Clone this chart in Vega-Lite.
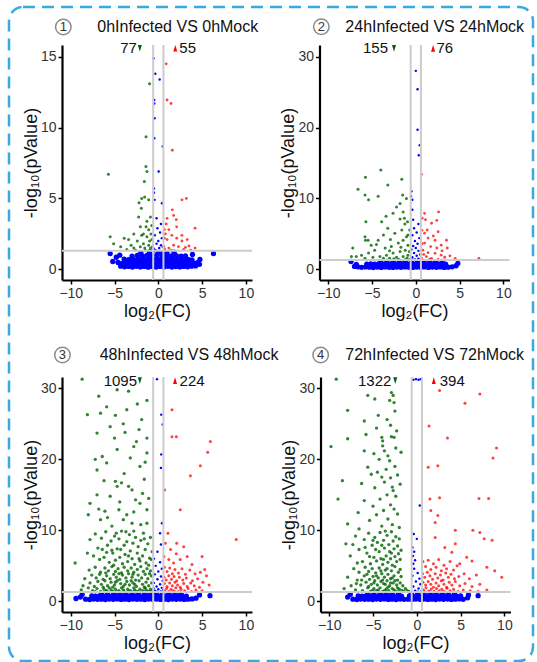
{
"$schema":"https://vega.github.io/schema/vega-lite/v6.json",
"width":524,"height":654,
"autosize":{"type":"none"},
"padding":{"left":9,"top":7,"right":4,"bottom":1},
"background":"white",
"config":{
 "font":"Liberation Sans",
 "view":{"stroke":"#3aa9e1","strokeWidth":2.5,"strokeDash":[12,7],"cornerRadius":14},
 "axis":{"grid":false,"domainColor":"#000","domainWidth":2.2,"tickColor":"#000","tickWidth":1.5,"tickSize":4,"labelFont":"Liberation Sans","labelFontSize":14,"labelColor":"#333","labelPadding":2,"labelFlush":false,"titleFont":"Liberation Sans","titleFontSize":18,"titleFontWeight":"normal","titleColor":"#111","titlePadding":0},
 "axisX":{"titlePadding":2}
},
"resolve":{"scale":{"x":"independent","y":"independent"},"axis":{"x":"independent","y":"independent"}},
"layer":[
{"layer":[
 {"data":{"name":"p1n"},"mark":{"type":"point","filled":true,"color":"#0000ff","opacity":1},
  "encoding":{"x":{"field":"x","type":"quantitative","scale":{"domain":[-11,10.7],"range":[53,243],"nice":false,"zero":false},"axis":{"orient":"bottom","offset":-381,"values":[-10,-5,0,5,10],"title":"log₂(FC)"}},
   "y":{"field":"y","type":"quantitative","scale":{"domain":[-0.755,15.83],"range":[273,38],"nice":false,"zero":false},"axis":{"orient":"left","offset":-53,"values":[0,5,10,15],"title":"-log₁₀(pValue)"}},
   "size":{"field":"y","type":"quantitative","scale":{"type":"threshold","domain":[1.25],"range":[28,6]},"legend":null}}},
 {"data":{"name":"p1d"},"mark":{"type":"point","filled":true,"size":9,"color":"#006400","opacity":0.8},"encoding":{"x":{"field":"x","type":"quantitative"},"y":{"field":"y","type":"quantitative"}}},
 {"data":{"name":"p1u"},"mark":{"type":"point","filled":true,"size":8,"color":"#ff0000","opacity":0.75},"encoding":{"x":{"field":"x","type":"quantitative"},"y":{"field":"y","type":"quantitative"}}},
 {"data":{"values":[{"fc":-0.585},{"fc":0.585}]},"mark":{"type":"rule","color":"#cccccc","strokeWidth":2},"encoding":{"x":{"field":"fc","type":"quantitative"},"y":{"datum":-0.755,"type":"quantitative"},"y2":{"datum":15.83}}},
 {"data":{"values":[{"p":1.301}]},"mark":{"type":"rule","color":"#cccccc","strokeWidth":2},"encoding":{"y":{"field":"p","type":"quantitative"},"x":{"datum":-11,"type":"quantitative"},"x2":{"datum":10.7}}},
 {"data":{"values":[{"down":77,"up":55}]},"layer":[
  {"mark":{"type":"text","fontSize":15,"align":"right","color":"#111"},"encoding":{"x":{"datum":-2.45,"type":"quantitative"},"y":{"datum":15.6,"type":"quantitative"},"text":{"field":"down"}}},
  {"mark":{"type":"point","filled":true,"opacity":1,"color":"#006400","size":45,"shape":"M-0.6,-1L0.6,-1L0,1Z"},"encoding":{"x":{"datum":-2.11,"type":"quantitative"},"y":{"datum":15.6,"type":"quantitative"}}},
  {"mark":{"type":"point","filled":true,"opacity":1,"color":"#ff0000","size":45,"shape":"M-0.6,1L0.6,1L0,-1Z"},"encoding":{"x":{"datum":1.94,"type":"quantitative"},"y":{"datum":15.6,"type":"quantitative"}}},
  {"mark":{"type":"text","fontSize":15,"align":"left","color":"#111"},"encoding":{"x":{"datum":2.4,"type":"quantitative"},"y":{"datum":15.6,"type":"quantitative"},"text":{"field":"up"}}}
 ]},
 {"data":{"values":[{"no":"1","title":"0hInfected VS 0hMock"}]},"layer":[
  {"mark":{"type":"point","shape":"circle","size":240,"color":"#8c8c8c","strokeWidth":1.5,"filled":false,"opacity":1},"encoding":{"x":{"datum":-10.85,"type":"quantitative"},"y":{"datum":17.1,"type":"quantitative"}}},
  {"mark":{"type":"text","fontSize":13,"color":"#333"},"encoding":{"x":{"datum":-10.85,"type":"quantitative"},"y":{"datum":17.1,"type":"quantitative"},"text":{"field":"no"}}},
  {"mark":{"type":"text","fontSize":16,"align":"left","color":"#111"},"encoding":{"x":{"datum":-6.97,"type":"quantitative"},"y":{"datum":17.1,"type":"quantitative"},"text":{"field":"title"}}}
 ]}
]},
{"layer":[
 {"data":{"name":"p2n"},"mark":{"type":"point","filled":true,"color":"#0000ff","opacity":1},
  "encoding":{"x":{"field":"x","type":"quantitative","scale":{"domain":[-11,10.7],"range":[310.5,500.5],"nice":false,"zero":false},"axis":{"orient":"bottom","offset":-381,"values":[-10,-5,0,5,10],"title":"log₂(FC)"}},
   "y":{"field":"y","type":"quantitative","scale":{"domain":[-1.51,31.65],"range":[273,38],"nice":false,"zero":false},"axis":{"orient":"left","offset":-310.5,"values":[0,10,20,30],"title":"-log₁₀(pValue)"}},
   "size":{"field":"y","type":"quantitative","scale":{"type":"threshold","domain":[1.25],"range":[28,6]},"legend":null}}},
 {"data":{"name":"p2d"},"mark":{"type":"point","filled":true,"size":9,"color":"#006400","opacity":0.8},"encoding":{"x":{"field":"x","type":"quantitative"},"y":{"field":"y","type":"quantitative"}}},
 {"data":{"name":"p2u"},"mark":{"type":"point","filled":true,"size":8,"color":"#ff0000","opacity":0.75},"encoding":{"x":{"field":"x","type":"quantitative"},"y":{"field":"y","type":"quantitative"}}},
 {"data":{"values":[{"fc":-0.585},{"fc":0.585}]},"mark":{"type":"rule","color":"#cccccc","strokeWidth":2},"encoding":{"x":{"field":"fc","type":"quantitative"},"y":{"datum":-1.51,"type":"quantitative"},"y2":{"datum":31.65}}},
 {"data":{"values":[{"p":1.301}]},"mark":{"type":"rule","color":"#cccccc","strokeWidth":2},"encoding":{"y":{"field":"p","type":"quantitative"},"x":{"datum":-11,"type":"quantitative"},"x2":{"datum":10.7}}},
 {"data":{"values":[{"down":155,"up":76}]},"layer":[
  {"mark":{"type":"text","fontSize":15,"align":"right","color":"#111"},"encoding":{"x":{"datum":-3.17,"type":"quantitative"},"y":{"datum":31.18,"type":"quantitative"},"text":{"field":"down"}}},
  {"mark":{"type":"point","filled":true,"opacity":1,"color":"#006400","size":45,"shape":"M-0.6,-1L0.6,-1L0,1Z"},"encoding":{"x":{"datum":-2.49,"type":"quantitative"},"y":{"datum":31.18,"type":"quantitative"}}},
  {"mark":{"type":"point","filled":true,"opacity":1,"color":"#ff0000","size":45,"shape":"M-0.6,1L0.6,1L0,-1Z"},"encoding":{"x":{"datum":1.97,"type":"quantitative"},"y":{"datum":31.18,"type":"quantitative"}}},
  {"mark":{"type":"text","fontSize":15,"align":"left","color":"#111"},"encoding":{"x":{"datum":2.35,"type":"quantitative"},"y":{"datum":31.18,"type":"quantitative"},"text":{"field":"up"}}}
 ]},
 {"data":{"values":[{"no":"2","title":"24hInfected VS 24hMock"}]},"layer":[
  {"mark":{"type":"point","shape":"circle","size":240,"color":"#8c8c8c","strokeWidth":1.5,"filled":false,"opacity":1},"encoding":{"x":{"datum":-10.79,"type":"quantitative"},"y":{"datum":34.23,"type":"quantitative"}}},
  {"mark":{"type":"text","fontSize":13,"color":"#333"},"encoding":{"x":{"datum":-10.79,"type":"quantitative"},"y":{"datum":34.23,"type":"quantitative"},"text":{"field":"no"}}},
  {"mark":{"type":"text","fontSize":16,"align":"left","color":"#111"},"encoding":{"x":{"datum":-8.05,"type":"quantitative"},"y":{"datum":34.23,"type":"quantitative"},"text":{"field":"title"}}}
 ]}
]},
{"layer":[
 {"data":{"name":"p3n"},"mark":{"type":"point","filled":true,"color":"#0000ff","opacity":1},
  "encoding":{"x":{"field":"x","type":"quantitative","scale":{"domain":[-11,10.7],"range":[53,243],"nice":false,"zero":false},"axis":{"orient":"bottom","offset":-49,"values":[-10,-5,0,5,10],"title":"log₂(FC)"}},
   "y":{"field":"y","type":"quantitative","scale":{"domain":[-1.5,31.6],"range":[605,370],"nice":false,"zero":false},"axis":{"orient":"left","offset":-53,"values":[0,10,20,30],"title":"-log₁₀(pValue)"}},
   "size":{"field":"y","type":"quantitative","scale":{"type":"threshold","domain":[1.25],"range":[28,6]},"legend":null}}},
 {"data":{"name":"p3d"},"mark":{"type":"point","filled":true,"size":11,"color":"#006400","opacity":0.8},"encoding":{"x":{"field":"x","type":"quantitative"},"y":{"field":"y","type":"quantitative"}}},
 {"data":{"name":"p3u"},"mark":{"type":"point","filled":true,"size":9,"color":"#ff0000","opacity":0.75},"encoding":{"x":{"field":"x","type":"quantitative"},"y":{"field":"y","type":"quantitative"}}},
 {"data":{"values":[{"fc":-0.585},{"fc":0.585}]},"mark":{"type":"rule","color":"#cccccc","strokeWidth":2},"encoding":{"x":{"field":"fc","type":"quantitative"},"y":{"datum":-1.5,"type":"quantitative"},"y2":{"datum":31.6}}},
 {"data":{"values":[{"p":1.301}]},"mark":{"type":"rule","color":"#cccccc","strokeWidth":2},"encoding":{"y":{"field":"p","type":"quantitative"},"x":{"datum":-11,"type":"quantitative"},"x2":{"datum":10.7}}},
 {"data":{"values":[{"down":1095,"up":224}]},"layer":[
  {"mark":{"type":"text","fontSize":15,"align":"right","color":"#111"},"encoding":{"x":{"datum":-2.43,"type":"quantitative"},"y":{"datum":31.08,"type":"quantitative"},"text":{"field":"down"}}},
  {"mark":{"type":"point","filled":true,"opacity":1,"color":"#006400","size":45,"shape":"M-0.6,-1L0.6,-1L0,1Z"},"encoding":{"x":{"datum":-2.11,"type":"quantitative"},"y":{"datum":31.08,"type":"quantitative"}}},
  {"mark":{"type":"point","filled":true,"opacity":1,"color":"#ff0000","size":45,"shape":"M-0.6,1L0.6,1L0,-1Z"},"encoding":{"x":{"datum":1.91,"type":"quantitative"},"y":{"datum":31.08,"type":"quantitative"}}},
  {"mark":{"type":"text","fontSize":15,"align":"left","color":"#111"},"encoding":{"x":{"datum":2.43,"type":"quantitative"},"y":{"datum":31.08,"type":"quantitative"},"text":{"field":"up"}}}
 ]},
 {"data":{"values":[{"no":"3","title":"48hInfected VS 48hMock"}]},"layer":[
  {"mark":{"type":"point","shape":"circle","size":240,"color":"#8c8c8c","strokeWidth":1.5,"filled":false,"opacity":1},"encoding":{"x":{"datum":-10.95,"type":"quantitative"},"y":{"datum":34.7,"type":"quantitative"}}},
  {"mark":{"type":"text","fontSize":13,"color":"#333"},"encoding":{"x":{"datum":-10.95,"type":"quantitative"},"y":{"datum":34.7,"type":"quantitative"},"text":{"field":"no"}}},
  {"mark":{"type":"text","fontSize":16,"align":"left","color":"#111"},"encoding":{"x":{"datum":-6.7,"type":"quantitative"},"y":{"datum":34.7,"type":"quantitative"},"text":{"field":"title"}}}
 ]}
]},
{"layer":[
 {"data":{"name":"p4n"},"mark":{"type":"point","filled":true,"color":"#0000ff","opacity":1},
  "encoding":{"x":{"field":"x","type":"quantitative","scale":{"domain":[-11,10.7],"range":[311.5,501.5],"nice":false,"zero":false},"axis":{"orient":"bottom","offset":-49,"values":[-10,-5,0,5,10],"title":"log₂(FC)"}},
   "y":{"field":"y","type":"quantitative","scale":{"domain":[-1.5,31.6],"range":[605,370],"nice":false,"zero":false},"axis":{"orient":"left","offset":-311.5,"values":[0,10,20,30],"title":"-log₁₀(pValue)"}},
   "size":{"field":"y","type":"quantitative","scale":{"type":"threshold","domain":[1.25],"range":[28,6]},"legend":null}}},
 {"data":{"name":"p4d"},"mark":{"type":"point","filled":true,"size":11,"color":"#006400","opacity":0.8},"encoding":{"x":{"field":"x","type":"quantitative"},"y":{"field":"y","type":"quantitative"}}},
 {"data":{"name":"p4u"},"mark":{"type":"point","filled":true,"size":9,"color":"#ff0000","opacity":0.75},"encoding":{"x":{"field":"x","type":"quantitative"},"y":{"field":"y","type":"quantitative"}}},
 {"data":{"values":[{"fc":-0.585},{"fc":0.585}]},"mark":{"type":"rule","color":"#cccccc","strokeWidth":2},"encoding":{"x":{"field":"fc","type":"quantitative"},"y":{"datum":-1.5,"type":"quantitative"},"y2":{"datum":31.6}}},
 {"data":{"values":[{"p":1.301}]},"mark":{"type":"rule","color":"#cccccc","strokeWidth":2},"encoding":{"y":{"field":"p","type":"quantitative"},"x":{"datum":-11,"type":"quantitative"},"x2":{"datum":10.7}}},
 {"data":{"values":[{"down":1322,"up":394}]},"layer":[
  {"mark":{"type":"text","fontSize":15,"align":"right","color":"#111"},"encoding":{"x":{"datum":-2.91,"type":"quantitative"},"y":{"datum":31.08,"type":"quantitative"},"text":{"field":"down"}}},
  {"mark":{"type":"point","filled":true,"opacity":1,"color":"#006400","size":45,"shape":"M-0.6,-1L0.6,-1L0,1Z"},"encoding":{"x":{"datum":-2.46,"type":"quantitative"},"y":{"datum":31.08,"type":"quantitative"}}},
  {"mark":{"type":"point","filled":true,"opacity":1,"color":"#ff0000","size":45,"shape":"M-0.6,1L0.6,1L0,-1Z"},"encoding":{"x":{"datum":1.94,"type":"quantitative"},"y":{"datum":31.08,"type":"quantitative"}}},
  {"mark":{"type":"text","fontSize":15,"align":"left","color":"#111"},"encoding":{"x":{"datum":2.62,"type":"quantitative"},"y":{"datum":31.08,"type":"quantitative"},"text":{"field":"up"}}}
 ]},
 {"data":{"values":[{"no":"4","title":"72hInfected VS 72hMock"}]},"layer":[
  {"mark":{"type":"point","shape":"circle","size":240,"color":"#8c8c8c","strokeWidth":1.5,"filled":false,"opacity":1},"encoding":{"x":{"datum":-10.98,"type":"quantitative"},"y":{"datum":34.7,"type":"quantitative"}}},
  {"mark":{"type":"text","fontSize":13,"color":"#333"},"encoding":{"x":{"datum":-10.98,"type":"quantitative"},"y":{"datum":34.7,"type":"quantitative"},"text":{"field":"no"}}},
  {"mark":{"type":"text","fontSize":16,"align":"left","color":"#111"},"encoding":{"x":{"datum":-8.17,"type":"quantitative"},"y":{"datum":34.7,"type":"quantitative"},"text":{"field":"title"}}}
 ]}
]}
],
"datasets":{
"p1n":[{"x":-4.3,"y":0.22},{"x":-3.85,"y":0.18},{"x":-3.4,"y":0.2},{"x":-2.95,"y":0.16},{"x":-2.5,"y":0.21},{"x":-2.05,"y":0.17},{"x":-1.6,"y":0.2},{"x":-1.15,"y":0.15},{"x":-0.7,"y":0.19},{"x":-0.25,"y":0.16},{"x":0.2,"y":0.2},{"x":0.65,"y":0.17},{"x":1.1,"y":0.21},{"x":1.55,"y":0.16},{"x":2.0,"y":0.19},{"x":2.45,"y":0.17},{"x":2.9,"y":0.2},{"x":3.35,"y":0.18},{"x":3.8,"y":0.22},{"x":4.25,"y":0.24},
{"x":-4.6,"y":0.48},{"x":-4.1,"y":0.44},{"x":-3.65,"y":0.46},{"x":-3.2,"y":0.42},{"x":-2.75,"y":0.47},{"x":-2.3,"y":0.43},{"x":-1.85,"y":0.46},{"x":-1.4,"y":0.41},{"x":-0.95,"y":0.45},{"x":-0.5,"y":0.42},{"x":-0.05,"y":0.47},{"x":0.4,"y":0.43},{"x":0.85,"y":0.46},{"x":1.3,"y":0.42},{"x":1.75,"y":0.45},{"x":2.2,"y":0.43},{"x":2.65,"y":0.47},{"x":3.1,"y":0.44},{"x":3.55,"y":0.46},{"x":4.0,"y":0.43},{"x":4.45,"y":0.47},
{"x":-3.9,"y":0.72},{"x":-3.4,"y":0.68},{"x":-2.9,"y":0.71},{"x":-2.45,"y":0.67},{"x":-2.0,"y":0.73},{"x":-1.55,"y":0.69},{"x":-1.1,"y":0.72},{"x":-0.65,"y":0.68},{"x":-0.2,"y":0.74},{"x":0.25,"y":0.7},{"x":0.7,"y":0.73},{"x":1.15,"y":0.68},{"x":1.6,"y":0.71},{"x":2.05,"y":0.69},{"x":2.5,"y":0.72},{"x":2.95,"y":0.68},{"x":3.4,"y":0.7},{"x":3.85,"y":0.66},
{"x":-3.0,"y":0.93},{"x":-2.4,"y":0.98},{"x":-1.8,"y":0.94},{"x":-1.25,"y":1.0},{"x":-0.7,"y":0.96},{"x":-0.15,"y":1.02},{"x":0.4,"y":0.95},{"x":0.95,"y":0.99},{"x":1.5,"y":0.94},{"x":2.05,"y":0.97},{"x":2.6,"y":0.92},{"x":3.1,"y":0.95},
{"x":-2.0,"y":1.18},{"x":-1.0,"y":1.22},{"x":0.0,"y":1.2},{"x":1.0,"y":1.16},{"x":1.8,"y":1.21},{"x":-0.5,"y":1.25},{"x":0.5,"y":1.12},
{"x":-5.2,"y":0.55},{"x":-5.5,"y":1.1},{"x":-4.8,"y":0.85},{"x":4.7,"y":0.35},{"x":4.75,"y":0.7},{"x":6.3,"y":1.1},{"x":-4.4,"y":1.0},{"x":3.9,"y":1.05},
{"x":-0.55,"y":14.9},{"x":-0.34,"y":13.8},{"x":0.15,"y":13.4},{"x":-0.46,"y":11.95},{"x":-0.46,"y":11.7},{"x":-0.42,"y":10.66},{"x":-0.46,"y":9.25},{"x":0.5,"y":8.66},{"x":0.04,"y":6.9},{"x":-0.5,"y":5.7},{"x":-0.5,"y":5.4},{"x":-0.42,"y":4.9},{"x":0.42,"y":4.66},{"x":-0.2,"y":3.6},{"x":0.3,"y":3.2},{"x":-0.1,"y":2.9},{"x":0.2,"y":2.6},{"x":-0.4,"y":2.4},{"x":0.4,"y":2.2},{"x":0.0,"y":2.0},{"x":-0.2,"y":1.8},{"x":0.3,"y":1.7},{"x":0.1,"y":1.5},{"x":-0.5,"y":1.45},{"x":0.5,"y":1.6},{"x":-0.3,"y":1.35},{"x":0.2,"y":1.3}],
"p1d":[{"x":-1.4,"y":9.36},{"x":-1.3,"y":6.9},{"x":-1.6,"y":6.2},{"x":-1.56,"y":5.1},{"x":-1.94,"y":4.3},{"x":-5.7,"y":6.7},{"x":-1.0,"y":13.1},{"x":-1.1,"y":4.9},{"x":-2.25,"y":3.7},{"x":-2.05,"y":3.0},{"x":-1.3,"y":3.4},{"x":-1.1,"y":2.8},{"x":-1.7,"y":2.5},{"x":-1.3,"y":2.3},{"x":-2.8,"y":2.5},{"x":-3.9,"y":2.2},{"x":-5.1,"y":1.8},{"x":-2.4,"y":2.0},{"x":-1.7,"y":1.8},{"x":-1.1,"y":1.7},{"x":-2.05,"y":1.6},{"x":-0.9,"y":1.5},{"x":-2.8,"y":1.5},{"x":-3.4,"y":2.1},{"x":-4.3,"y":1.6},{"x":-1.4,"y":3.0},{"x":-0.9,"y":3.7},{"x":-0.84,"y":2.5},{"x":-0.72,"y":2.1},{"x":-0.65,"y":1.6},{"x":-0.99,"y":2.0},{"x":-1.9,"y":2.4},{"x":-3.1,"y":1.7},{"x":-1.5,"y":1.35},{"x":-5.5,"y":2.3},{"x":-2.2,"y":4.7},{"x":-1.9,"y":5.0},{"x":-0.8,"y":1.35},{"x":-1.41,"y":7.25},{"x":-0.75,"y":3.1},{"x":-1.55,"y":1.5},{"x":-2.6,"y":1.35},{"x":-3.6,"y":1.4}],
"p1u":[{"x":0.9,"y":14.5},{"x":1.0,"y":11.95},{"x":1.45,"y":11.7},{"x":1.6,"y":8.4},{"x":2.7,"y":4.9},{"x":3.2,"y":5.0},{"x":1.75,"y":3.8},{"x":2.05,"y":3.5},{"x":0.9,"y":3.2},{"x":4.2,"y":2.9},{"x":1.2,"y":2.8},{"x":1.55,"y":2.4},{"x":2.1,"y":2.2},{"x":2.7,"y":2.0},{"x":1.0,"y":2.1},{"x":1.75,"y":1.7},{"x":2.3,"y":1.6},{"x":3.1,"y":1.55},{"x":3.5,"y":1.65},{"x":0.65,"y":1.6},{"x":1.2,"y":1.5},{"x":2.7,"y":2.4},{"x":3.3,"y":2.1},{"x":0.8,"y":2.5},{"x":1.45,"y":1.35},{"x":0.7,"y":2.8},{"x":1.0,"y":3.6},{"x":2.1,"y":3.0},{"x":1.6,"y":4.2},{"x":0.7,"y":2.2},{"x":3.7,"y":1.35},{"x":4.2,"y":1.5},{"x":2.9,"y":1.4},{"x":0.75,"y":1.4}],
"p2n":[{"x":-6.2,"y":0.28},{"x":-5.75,"y":0.34},{"x":-5.3,"y":0.3},{"x":-4.85,"y":0.25},{"x":-4.4,"y":0.32},{"x":-3.95,"y":0.27},{"x":-3.5,"y":0.33},{"x":-3.05,"y":0.29},{"x":-2.6,"y":0.26},{"x":-2.15,"y":0.31},{"x":-1.7,"y":0.28},{"x":-1.25,"y":0.34},{"x":-0.8,"y":0.3},{"x":-0.35,"y":0.27},{"x":0.1,"y":0.32},{"x":0.55,"y":0.28},{"x":1.0,"y":0.33},{"x":1.45,"y":0.26},{"x":1.9,"y":0.31},{"x":2.35,"y":0.29},{"x":2.8,"y":0.33},{"x":3.25,"y":0.27},{"x":3.7,"y":0.3},{"x":4.15,"y":0.35},
{"x":-5.6,"y":0.74},{"x":-5.15,"y":0.78},{"x":-4.7,"y":0.72},{"x":-4.25,"y":0.77},{"x":-3.8,"y":0.73},{"x":-3.35,"y":0.79},{"x":-2.9,"y":0.74},{"x":-2.45,"y":0.76},{"x":-2.0,"y":0.71},{"x":-1.55,"y":0.78},{"x":-1.1,"y":0.75},{"x":-0.65,"y":0.8},{"x":-0.2,"y":0.73},{"x":0.25,"y":0.77},{"x":0.7,"y":0.72},{"x":1.15,"y":0.78},{"x":1.6,"y":0.74},{"x":2.05,"y":0.76},{"x":2.5,"y":0.71},{"x":2.95,"y":0.77},{"x":3.4,"y":0.73},
{"x":-4.0,"y":1.08},{"x":-3.3,"y":1.13},{"x":-2.6,"y":1.06},{"x":-1.9,"y":1.15},{"x":-1.2,"y":1.1},{"x":-0.5,"y":1.18},{"x":0.2,"y":1.12},{"x":0.9,"y":1.07},{"x":1.6,"y":1.14},{"x":2.3,"y":1.05},{"x":3.0,"y":1.1},
{"x":-7.4,"y":1.1},{"x":-6.8,"y":0.7},{"x":-6.6,"y":0.35},{"x":4.6,"y":0.5},{"x":4.8,"y":0.85},{"x":-7.0,"y":0.4},
{"x":0.0,"y":28.0},{"x":0.2,"y":25.4},{"x":0.2,"y":19.7},{"x":0.45,"y":17.5},{"x":0.34,"y":16.1},{"x":-0.5,"y":11.0},{"x":-0.55,"y":10.3},{"x":-0.4,"y":9.8},{"x":-0.4,"y":8.4},{"x":-0.3,"y":7.0},{"x":0.3,"y":6.4},{"x":-0.2,"y":5.8},{"x":0.1,"y":5.2},{"x":-0.4,"y":4.8},{"x":0.4,"y":4.4},{"x":-0.1,"y":4.0},{"x":0.2,"y":3.6},{"x":-0.3,"y":3.3},{"x":0.0,"y":3.0},{"x":-0.5,"y":2.8},{"x":0.3,"y":2.6},{"x":-0.2,"y":2.3},{"x":0.5,"y":2.1},{"x":0.1,"y":1.9},{"x":-0.4,"y":1.7},{"x":0.3,"y":1.5},{"x":-0.1,"y":1.4}],
"p2d":[{"x":-5.75,"y":13.0},{"x":-4.0,"y":14.0},{"x":-1.6,"y":12.7},{"x":-6.6,"y":11.3},{"x":-3.2,"y":11.9},{"x":-5.8,"y":10.5},{"x":-5.4,"y":9.8},{"x":-1.5,"y":10.5},{"x":-5.7,"y":6.7},{"x":-4.3,"y":10.3},{"x":-3.4,"y":7.5},{"x":-1.3,"y":7.2},{"x":-1.25,"y":6.4},{"x":-5.8,"y":4.6},{"x":-5.75,"y":4.1},{"x":-7.2,"y":3.0},{"x":-1.8,"y":7.1},{"x":-1.6,"y":5.55},{"x":-2.4,"y":5.1},{"x":-3.2,"y":5.8},{"x":-3.7,"y":4.85},{"x":-4.3,"y":4.1},{"x":-1.07,"y":4.6},{"x":-1.45,"y":4.1},{"x":-2.0,"y":3.7},{"x":-2.8,"y":3.2},{"x":-3.5,"y":3.0},{"x":-4.7,"y":2.7},{"x":-5.4,"y":2.3},{"x":-6.2,"y":2.0},{"x":-6.8,"y":1.8},{"x":-0.9,"y":3.4},{"x":-1.2,"y":2.7},{"x":-1.8,"y":2.5},{"x":-2.6,"y":2.3},{"x":-3.35,"y":2.0},{"x":-4.1,"y":1.8},{"x":-4.9,"y":1.7},{"x":-0.9,"y":2.0},{"x":-1.45,"y":1.8},{"x":-2.2,"y":1.7},{"x":-3.0,"y":1.55},{"x":-3.7,"y":1.55},{"x":-0.7,"y":1.4},{"x":-1.25,"y":1.35},{"x":-2.0,"y":1.4},{"x":-5.8,"y":1.55},{"x":-7.35,"y":1.8},{"x":-5.45,"y":4.1},{"x":-5.1,"y":3.4},{"x":-3.9,"y":6.7},{"x":-2.6,"y":7.9},{"x":-1.8,"y":9.3},{"x":-1.07,"y":10.0},{"x":-2.2,"y":8.8},{"x":-1.45,"y":8.1},{"x":-0.95,"y":6.7},{"x":-0.7,"y":5.55},{"x":-0.9,"y":4.85},{"x":-2.9,"y":4.2},{"x":-1.7,"y":3.1},{"x":-4.5,"y":3.5},{"x":-0.75,"y":2.5},{"x":-1.0,"y":1.6},{"x":-2.5,"y":1.5},{"x":-3.0,"y":2.6}],
"p2u":[{"x":0.65,"y":13.4},{"x":2.6,"y":8.1},{"x":2.4,"y":6.9},{"x":2.55,"y":5.3},{"x":1.1,"y":7.0},{"x":0.7,"y":5.5},{"x":3.5,"y":4.1},{"x":7.2,"y":1.55},{"x":1.0,"y":5.1},{"x":1.4,"y":4.4},{"x":2.0,"y":4.7},{"x":1.0,"y":3.7},{"x":1.7,"y":3.2},{"x":2.4,"y":3.0},{"x":2.9,"y":3.4},{"x":3.6,"y":3.0},{"x":0.8,"y":2.7},{"x":1.4,"y":2.35},{"x":2.2,"y":2.25},{"x":2.9,"y":2.0},{"x":3.9,"y":1.9},{"x":4.5,"y":1.55},{"x":1.2,"y":1.8},{"x":1.8,"y":1.55},{"x":0.65,"y":1.55},{"x":2.55,"y":1.4},{"x":3.3,"y":1.7},{"x":0.7,"y":3.6},{"x":1.3,"y":5.55},{"x":1.8,"y":6.5},{"x":0.72,"y":7.2},{"x":2.2,"y":4.1},{"x":1.0,"y":7.9},{"x":0.9,"y":2.1},{"x":1.6,"y":1.4},{"x":3.0,"y":2.6}],
"p3n":[{"x":-8.3,"y":0.3},{"x":-7.85,"y":0.26},{"x":-7.4,"y":0.33},{"x":-6.95,"y":0.28},{"x":-6.5,"y":0.31},{"x":-6.05,"y":0.25},{"x":-5.6,"y":0.32},{"x":-5.15,"y":0.28},{"x":-4.7,"y":0.34},{"x":-4.25,"y":0.27},{"x":-3.8,"y":0.3},{"x":-3.35,"y":0.26},{"x":-2.9,"y":0.33},{"x":-2.45,"y":0.29},{"x":-2.0,"y":0.31},{"x":-1.55,"y":0.25},{"x":-1.1,"y":0.32},{"x":-0.65,"y":0.28},{"x":-0.2,"y":0.33},{"x":0.25,"y":0.27},{"x":0.7,"y":0.31},{"x":1.15,"y":0.26},{"x":1.6,"y":0.32},{"x":2.05,"y":0.29},{"x":2.5,"y":0.33},{"x":2.95,"y":0.27},{"x":3.4,"y":0.3},{"x":3.85,"y":0.34},
{"x":-7.6,"y":0.76},{"x":-7.15,"y":0.72},{"x":-6.7,"y":0.78},{"x":-6.25,"y":0.73},{"x":-5.8,"y":0.77},{"x":-5.35,"y":0.71},{"x":-4.9,"y":0.79},{"x":-4.45,"y":0.74},{"x":-4.0,"y":0.76},{"x":-3.55,"y":0.72},{"x":-3.1,"y":0.78},{"x":-2.65,"y":0.73},{"x":-2.2,"y":0.77},{"x":-1.75,"y":0.71},{"x":-1.3,"y":0.76},{"x":-0.85,"y":0.74},{"x":-0.4,"y":0.79},{"x":0.05,"y":0.72},{"x":0.5,"y":0.77},{"x":0.95,"y":0.73},{"x":1.4,"y":0.78},{"x":1.85,"y":0.72},{"x":2.3,"y":0.76},{"x":2.75,"y":0.71},{"x":3.2,"y":0.75},
{"x":-6.5,"y":1.1},{"x":-5.8,"y":1.15},{"x":-5.1,"y":1.07},{"x":-4.4,"y":1.13},{"x":-3.7,"y":1.08},{"x":-3.0,"y":1.16},{"x":-2.3,"y":1.1},{"x":-1.6,"y":1.14},{"x":-0.9,"y":1.06},{"x":-0.2,"y":1.17},{"x":0.5,"y":1.09},{"x":1.2,"y":1.13},{"x":1.9,"y":1.08},{"x":2.6,"y":1.12},
{"x":-8.9,"y":0.6},{"x":-8.7,"y":0.95},{"x":4.3,"y":0.45},{"x":4.7,"y":0.9},{"x":5.9,"y":0.8},{"x":-9.4,"y":0.4},
{"x":-0.15,"y":31.3},{"x":0.34,"y":26.3},{"x":0.5,"y":24.9},{"x":0.34,"y":20.7},{"x":0.3,"y":18.8},{"x":0.42,"y":11.0},{"x":0.2,"y":9.6},{"x":-0.5,"y":6.0},{"x":0.2,"y":5.5},{"x":-0.3,"y":5.0},{"x":0.4,"y":4.6},{"x":0.0,"y":4.2},{"x":-0.4,"y":3.8},{"x":0.3,"y":3.5},{"x":-0.1,"y":3.1},{"x":0.5,"y":2.9},{"x":-0.5,"y":2.6},{"x":0.2,"y":2.4},{"x":-0.2,"y":2.1},{"x":0.4,"y":1.9},{"x":0.0,"y":1.7},{"x":-0.4,"y":1.5},{"x":0.3,"y":1.4},{"x":-0.1,"y":7.0},{"x":0.3,"y":8.0},{"x":0.55,"y":1.6},{"x":-0.55,"y":1.8}],
"p3d":[{"x":-8.7,"y":31.3},{"x":-6.8,"y":28.9},{"x":-5.9,"y":27.4},{"x":-4.7,"y":29.8},{"x":-3.4,"y":29.6},{"x":-1.3,"y":28.3},{"x":-8.1,"y":26.3},{"x":-6.6,"y":26.5},{"x":-4.9,"y":26.2},{"x":-3.6,"y":27.0},{"x":-1.9,"y":25.6},{"x":-5.5,"y":24.6},{"x":-7.0,"y":23.7},{"x":-2.2,"y":24.2},{"x":-1.3,"y":23.0},{"x":-7.2,"y":20.0},{"x":-6.4,"y":20.4},{"x":-2.8,"y":21.8},{"x":-4.7,"y":21.4},{"x":-1.3,"y":20.9},{"x":-2.1,"y":19.0},{"x":-7.0,"y":18.5},{"x":-4.9,"y":16.9},{"x":-4.7,"y":16.2},{"x":-4.2,"y":16.7},{"x":-3.4,"y":16.2},{"x":-3.0,"y":15.7},{"x":-5.5,"y":14.8},{"x":-7.0,"y":15.0},{"x":-2.6,"y":14.3},{"x":-2.1,"y":13.8},{"x":-7.8,"y":13.8},{"x":-6.1,"y":12.7},{"x":-4.5,"y":12.9},{"x":-3.6,"y":12.2},{"x":-1.3,"y":12.9},{"x":-1.3,"y":11.0},{"x":-6.6,"y":11.5},{"x":-3.0,"y":11.0},{"x":-5.3,"y":10.6},
{"x":-4.0,"y":25.0},{"x":-2.5,"y":22.5},{"x":-5.9,"y":19.5},{"x":-3.9,"y":18.0},{"x":-1.6,"y":17.2},{"x":-6.2,"y":17.0},{"x":-2.4,"y":27.8},{"x":-5.0,"y":23.0},{"x":-3.2,"y":20.2},{"x":-6.8,"y":13.0},{"x":-2.8,"y":12.6},{"x":-1.8,"y":15.2},{"x":-4.4,"y":14.0},{"x":-5.8,"y":11.8},{"x":-2.0,"y":10.8},{"x":-1.1,"y":14.5},{"x":-1.5,"y":19.6},{"x":-3.8,"y":23.8},{"x":-8.0,"y":12.2},{"x":-4.0,"y":11.5},
{"x":-8.1,"y":6.8},{"x":-7.8,"y":8.7},{"x":-9.5,"y":5.4},{"x":-7.2,"y":9.5},{"x":-6.9,"y":7.5},{"x":-6.5,"y":8.9},{"x":-6.2,"y":6.2},{"x":-6.0,"y":9.8},{"x":-5.8,"y":7.9},{"x":-5.6,"y":5.5},{"x":-5.4,"y":8.5},{"x":-5.2,"y":6.8},{"x":-5.0,"y":9.2},{"x":-4.9,"y":5.8},{"x":-4.7,"y":7.4},{"x":-4.5,"y":8.8},{"x":-4.4,"y":6.2},{"x":-4.2,"y":9.9},{"x":-4.1,"y":5.3},{"x":-3.9,"y":7.9},{"x":-3.8,"y":6.6},{"x":-3.6,"y":8.4},{"x":-3.5,"y":5.6},{"x":-3.3,"y":9.4},{"x":-3.2,"y":7.1},{"x":-3.0,"y":6.0},{"x":-2.9,"y":8.2},{"x":-2.7,"y":5.2},{"x":-2.6,"y":9.0},{"x":-2.4,"y":6.8},{"x":-2.3,"y":7.7},{"x":-2.1,"y":5.7},{"x":-2.0,"y":8.6},{"x":-1.8,"y":6.4},{"x":-1.7,"y":9.6},{"x":-1.5,"y":7.3},{"x":-1.4,"y":5.4},{"x":-1.2,"y":8.1},{"x":-1.0,"y":6.1},{"x":-0.9,"y":9.0},{"x":-0.8,"y":5.9},{"x":-0.7,"y":7.0},{"x":-6.7,"y":5.9},{"x":-7.4,"y":6.4},{"x":-5.9,"y":6.9},{"x":-4.8,"y":9.6},{"x":-3.7,"y":9.8},{"x":-2.8,"y":9.9},{"x":-5.3,"y":7.2},{"x":-4.3,"y":7.3},{"x":-3.4,"y":6.4},{"x":-2.2,"y":6.0},{"x":-1.6,"y":8.8},{"x":-1.1,"y":5.1},{"x":-6.4,"y":7.3},{"x":-5.1,"y":5.1},
{"x":-7.9,"y":4.4},{"x":-7.2,"y":4.8},{"x":-6.6,"y":4.1},{"x":-6.1,"y":4.7},{"x":-5.7,"y":4.3},{"x":-5.3,"y":4.9},{"x":-4.9,"y":4.2},{"x":-4.6,"y":4.6},{"x":-4.2,"y":4.0},{"x":-3.9,"y":4.8},{"x":-3.5,"y":4.3},{"x":-3.1,"y":4.7},{"x":-2.8,"y":4.1},{"x":-2.4,"y":4.5},{"x":-2.0,"y":4.9},{"x":-1.7,"y":4.2},{"x":-1.3,"y":4.6},{"x":-0.9,"y":4.3},
{"x":-8.4,"y":3.2},{"x":-7.6,"y":3.7},{"x":-7.1,"y":3.3},{"x":-6.7,"y":3.8},{"x":-6.3,"y":3.1},{"x":-5.9,"y":3.6},{"x":-5.5,"y":3.2},{"x":-5.1,"y":3.8},{"x":-4.8,"y":3.4},{"x":-4.4,"y":3.1},{"x":-4.1,"y":3.7},{"x":-3.7,"y":3.3},{"x":-3.4,"y":3.9},{"x":-3.0,"y":3.4},{"x":-2.6,"y":3.0},{"x":-2.3,"y":3.7},{"x":-1.9,"y":3.3},{"x":-1.5,"y":3.8},{"x":-1.2,"y":3.2},{"x":-0.8,"y":3.6},{"x":-6.0,"y":4.0},{"x":-4.5,"y":3.9},{"x":-2.9,"y":3.8},{"x":-1.0,"y":3.9},
{"x":-8.6,"y":2.2},{"x":-7.8,"y":2.6},{"x":-7.3,"y":2.1},{"x":-6.9,"y":2.8},{"x":-6.5,"y":2.4},{"x":-6.1,"y":2.9},{"x":-5.8,"y":2.2},{"x":-5.4,"y":2.7},{"x":-5.0,"y":2.3},{"x":-4.7,"y":2.9},{"x":-4.3,"y":2.5},{"x":-4.0,"y":2.1},{"x":-3.6,"y":2.8},{"x":-3.3,"y":2.3},{"x":-2.9,"y":2.6},{"x":-2.5,"y":2.1},{"x":-2.2,"y":2.9},{"x":-1.8,"y":2.4},{"x":-1.4,"y":2.7},{"x":-1.1,"y":2.2},{"x":-0.75,"y":2.6},{"x":-6.3,"y":2.0},{"x":-5.2,"y":2.0},{"x":-3.8,"y":2.4},{"x":-2.7,"y":2.4},{"x":-1.6,"y":2.0},{"x":-4.9,"y":2.7},{"x":-3.1,"y":2.9},
{"x":-8.8,"y":1.6},{"x":-8.0,"y":1.9},{"x":-7.5,"y":1.5},{"x":-7.0,"y":1.8},{"x":-6.6,"y":1.4},{"x":-6.2,"y":1.7},{"x":-5.9,"y":1.5},{"x":-5.6,"y":1.9},{"x":-5.2,"y":1.4},{"x":-4.9,"y":1.7},{"x":-4.5,"y":1.5},{"x":-4.2,"y":1.9},{"x":-3.9,"y":1.4},{"x":-3.5,"y":1.7},{"x":-3.2,"y":1.5},{"x":-2.8,"y":1.9},{"x":-2.5,"y":1.4},{"x":-2.1,"y":1.7},{"x":-1.8,"y":1.5},{"x":-1.5,"y":1.9},{"x":-1.2,"y":1.4},{"x":-0.9,"y":1.7},{"x":-0.7,"y":1.5},{"x":-7.2,"y":1.35},{"x":-6.0,"y":1.35},{"x":-4.7,"y":1.35},{"x":-3.4,"y":1.35},{"x":-2.3,"y":1.35},{"x":-1.0,"y":1.35},{"x":-5.4,"y":1.6},{"x":-4.0,"y":1.6},{"x":-2.7,"y":1.6},{"x":-1.4,"y":1.6}],
"p3u":[{"x":1.56,"y":27.0},{"x":1.56,"y":23.2},{"x":2.06,"y":23.2},{"x":5.94,"y":22.5},{"x":5.64,"y":21.0},{"x":4.8,"y":19.1},{"x":3.66,"y":17.7},{"x":2.51,"y":12.9},{"x":8.9,"y":8.7},{"x":0.72,"y":15.7},
{"x":0.8,"y":8.2},{"x":1.4,"y":7.3},{"x":1.75,"y":5.4},{"x":2.5,"y":5.9},{"x":3.3,"y":6.3},{"x":3.85,"y":5.2},{"x":5.0,"y":6.3},{"x":5.3,"y":4.5},{"x":1.1,"y":9.6},{"x":2.1,"y":8.2},{"x":2.9,"y":7.7},{"x":0.65,"y":6.3},{"x":1.2,"y":5.9},{"x":2.05,"y":6.7},
{"x":0.7,"y":4.8},{"x":1.0,"y":4.2},{"x":1.3,"y":4.7},{"x":1.6,"y":3.9},{"x":1.9,"y":4.5},{"x":2.3,"y":4.0},{"x":2.7,"y":4.6},{"x":3.1,"y":3.8},{"x":3.6,"y":4.4},{"x":4.2,"y":3.9},{"x":4.8,"y":4.1},{"x":5.5,"y":3.6},
{"x":0.65,"y":3.4},{"x":0.9,"y":3.0},{"x":1.2,"y":3.6},{"x":1.5,"y":3.1},{"x":1.8,"y":3.5},{"x":2.1,"y":2.9},{"x":2.4,"y":3.4},{"x":2.8,"y":3.0},{"x":3.2,"y":3.3},{"x":3.9,"y":2.9},{"x":4.5,"y":3.2},{"x":5.1,"y":2.7},
{"x":0.7,"y":2.5},{"x":1.0,"y":2.1},{"x":1.3,"y":2.6},{"x":1.6,"y":2.2},{"x":1.9,"y":2.7},{"x":2.2,"y":2.3},{"x":2.5,"y":2.0},{"x":2.9,"y":2.5},{"x":3.3,"y":2.1},{"x":3.7,"y":2.6},{"x":4.1,"y":2.2},{"x":4.7,"y":2.0},{"x":5.8,"y":2.3},
{"x":0.7,"y":1.5},{"x":0.95,"y":1.8},{"x":1.2,"y":1.4},{"x":1.45,"y":1.7},{"x":1.7,"y":1.5},{"x":2.0,"y":1.9},{"x":2.3,"y":1.4},{"x":2.6,"y":1.7},{"x":3.0,"y":1.5},{"x":3.4,"y":1.8},{"x":3.8,"y":1.4},{"x":4.3,"y":1.6},{"x":5.0,"y":1.5},{"x":0.8,"y":1.35},{"x":1.9,"y":1.35}],
"p4n":[{"x":-7.3,"y":0.3},{"x":-6.85,"y":0.26},{"x":-6.4,"y":0.33},{"x":-5.95,"y":0.28},{"x":-5.5,"y":0.31},{"x":-5.05,"y":0.25},{"x":-4.6,"y":0.32},{"x":-4.15,"y":0.28},{"x":-3.7,"y":0.34},{"x":-3.25,"y":0.27},{"x":-2.8,"y":0.3},{"x":-2.35,"y":0.26},{"x":-1.9,"y":0.33},{"x":-1.45,"y":0.29},{"x":-1.0,"y":0.31},{"x":-0.55,"y":0.25},{"x":-0.1,"y":0.32},{"x":0.35,"y":0.28},{"x":0.8,"y":0.33},{"x":1.25,"y":0.27},{"x":1.7,"y":0.31},{"x":2.15,"y":0.26},{"x":2.6,"y":0.32},{"x":3.05,"y":0.29},{"x":3.5,"y":0.33},{"x":3.95,"y":0.27},{"x":4.4,"y":0.3},{"x":4.85,"y":0.34},{"x":5.3,"y":0.29},
{"x":-6.7,"y":0.76},{"x":-6.25,"y":0.72},{"x":-5.8,"y":0.78},{"x":-5.35,"y":0.73},{"x":-4.9,"y":0.77},{"x":-4.45,"y":0.71},{"x":-4.0,"y":0.79},{"x":-3.55,"y":0.74},{"x":-3.1,"y":0.76},{"x":-2.65,"y":0.72},{"x":-2.2,"y":0.78},{"x":-1.75,"y":0.73},{"x":-0.85,"y":0.77},{"x":-0.4,"y":0.71},{"x":0.05,"y":0.76},{"x":0.5,"y":0.74},{"x":0.95,"y":0.79},{"x":1.4,"y":0.72},{"x":1.85,"y":0.77},{"x":2.3,"y":0.73},{"x":2.75,"y":0.78},{"x":3.2,"y":0.72},{"x":3.65,"y":0.76},{"x":4.1,"y":0.71},{"x":4.55,"y":0.75},{"x":5.0,"y":0.78},
{"x":-5.6,"y":1.1},{"x":-4.9,"y":1.15},{"x":-4.2,"y":1.07},{"x":-3.5,"y":1.13},{"x":-2.8,"y":1.08},{"x":-2.1,"y":1.16},{"x":-0.6,"y":1.1},{"x":0.1,"y":1.14},{"x":0.8,"y":1.06},{"x":1.5,"y":1.17},{"x":2.2,"y":1.09},{"x":2.9,"y":1.13},{"x":3.6,"y":1.08},{"x":4.3,"y":1.12},
{"x":-7.9,"y":0.6},{"x":-7.6,"y":1.0},{"x":5.8,"y":0.5},{"x":5.9,"y":0.9},{"x":7.0,"y":0.8},
{"x":-0.4,"y":31.2},{"x":-0.1,"y":31.3},{"x":0.2,"y":31.2},{"x":0.45,"y":31.3},{"x":0.34,"y":13.5},{"x":-0.5,"y":7.6},{"x":-0.3,"y":7.0},{"x":-0.45,"y":6.4},{"x":-0.2,"y":5.8},{"x":-0.4,"y":5.3},{"x":-0.3,"y":4.6},{"x":0.1,"y":4.0},{"x":-0.5,"y":3.6},{"x":0.3,"y":3.2},{"x":-0.1,"y":2.8},{"x":0.4,"y":2.4},{"x":-0.4,"y":2.1},{"x":0.2,"y":1.8},{"x":-0.2,"y":1.5},{"x":0.5,"y":1.4},{"x":0.0,"y":8.8},{"x":-0.35,"y":9.5}],
"p4d":[{"x":-9.2,"y":31.3},{"x":-5.6,"y":29.0},{"x":-4.8,"y":28.5},{"x":-2.9,"y":29.4},{"x":-2.7,"y":29.0},{"x":-3.1,"y":28.3},{"x":-2.6,"y":28.0},{"x":-7.9,"y":26.9},{"x":-6.0,"y":25.4},{"x":-9.8,"y":21.8},{"x":-7.9,"y":22.9},{"x":-4.0,"y":23.1},{"x":-3.9,"y":22.6},{"x":-2.9,"y":23.2},{"x":-2.6,"y":23.1},{"x":-3.9,"y":21.9},{"x":-3.7,"y":21.2},{"x":-6.0,"y":21.2},{"x":-3.3,"y":20.5},{"x":-3.1,"y":19.8},{"x":-5.6,"y":18.9},{"x":-5.2,"y":17.9},{"x":-4.0,"y":17.5},{"x":-3.7,"y":16.8},{"x":-2.8,"y":16.1},{"x":-2.7,"y":15.6},{"x":-9.0,"y":14.4},{"x":-6.0,"y":14.2},
{"x":-4.4,"y":26.2},{"x":-3.4,"y":25.6},{"x":-2.5,"y":26.8},{"x":-4.6,"y":24.4},{"x":-3.0,"y":24.8},{"x":-2.3,"y":24.0},{"x":-4.3,"y":20.0},{"x":-2.4,"y":21.6},{"x":-4.9,"y":20.8},{"x":-3.5,"y":18.6},{"x":-2.5,"y":19.0},{"x":-4.5,"y":18.2},{"x":-3.0,"y":17.4},{"x":-2.2,"y":17.8},{"x":-4.8,"y":16.0},{"x":-3.4,"y":15.0},{"x":-2.4,"y":14.8},{"x":-4.2,"y":14.4},{"x":-3.0,"y":13.6},{"x":-5.0,"y":13.4},{"x":-2.6,"y":13.0},{"x":-3.8,"y":12.8},{"x":-4.6,"y":12.2},{"x":-2.2,"y":12.3},{"x":-3.3,"y":11.6},{"x":-5.4,"y":11.4},{"x":-2.8,"y":10.8},{"x":-4.0,"y":10.6},{"x":-6.7,"y":12.5},{"x":-7.9,"y":10.9},{"x":-6.3,"y":16.6},{"x":-5.8,"y":23.5},{"x":-8.5,"y":17.0},{"x":-6.6,"y":10.2},{"x":-2.0,"y":10.4},{"x":-1.9,"y":16.5},{"x":-1.8,"y":21.0},
{"x":-8.1,"y":8.1},{"x":-7.6,"y":6.4},{"x":-7.0,"y":9.2},{"x":-6.6,"y":7.3},{"x":-6.2,"y":5.6},{"x":-6.0,"y":8.7},{"x":-5.7,"y":6.8},{"x":-5.5,"y":9.6},{"x":-5.3,"y":5.3},{"x":-5.1,"y":7.9},{"x":-4.9,"y":6.2},{"x":-4.8,"y":9.0},{"x":-4.6,"y":5.7},{"x":-4.5,"y":8.3},{"x":-4.3,"y":7.0},{"x":-4.2,"y":9.7},{"x":-4.1,"y":6.0},{"x":-3.9,"y":5.2},{"x":-3.8,"y":8.6},{"x":-3.7,"y":7.5},{"x":-3.5,"y":6.4},{"x":-3.4,"y":9.3},{"x":-3.3,"y":5.5},{"x":-3.2,"y":8.0},{"x":-3.1,"y":7.0},{"x":-3.0,"y":6.0},{"x":-2.9,"y":9.8},{"x":-2.8,"y":5.1},{"x":-2.7,"y":8.5},{"x":-2.6,"y":7.4},{"x":-2.5,"y":6.3},{"x":-2.4,"y":9.1},{"x":-2.3,"y":5.6},{"x":-2.2,"y":7.8},{"x":-2.1,"y":6.7},{"x":-2.0,"y":8.8},{"x":-1.9,"y":5.9},{"x":-1.8,"y":7.2},{"x":-5.9,"y":7.6},{"x":-5.0,"y":8.6},{"x":-4.0,"y":7.9},{"x":-3.6,"y":9.9},{"x":-2.9,"y":6.8},{"x":-4.7,"y":7.3},{"x":-3.8,"y":5.9},{"x":-5.4,"y":6.3},{"x":-6.8,"y":5.4},{"x":-7.3,"y":8.0},
{"x":-7.9,"y":3.4},{"x":-7.5,"y":2.2},{"x":-7.2,"y":4.6},{"x":-7.0,"y":1.6},{"x":-6.8,"y":3.0},{"x":-6.6,"y":4.1},{"x":-6.4,"y":2.3},{"x":-6.2,"y":1.5},{"x":-6.0,"y":3.6},{"x":-5.9,"y":4.8},{"x":-5.8,"y":2.7},{"x":-5.6,"y":1.9},{"x":-5.5,"y":4.2},{"x":-5.4,"y":3.1},{"x":-5.3,"y":1.4},{"x":-5.2,"y":2.4},{"x":-5.1,"y":4.6},{"x":-5.0,"y":3.5},{"x":-4.9,"y":1.8},{"x":-4.8,"y":2.9},{"x":-4.7,"y":4.0},{"x":-4.6,"y":1.5},{"x":-4.5,"y":2.3},{"x":-4.4,"y":3.3},{"x":-4.3,"y":4.7},{"x":-4.2,"y":1.9},{"x":-4.1,"y":2.8},{"x":-4.0,"y":3.9},{"x":-3.9,"y":1.4},{"x":-3.8,"y":2.5},{"x":-3.7,"y":3.4},{"x":-3.6,"y":4.4},{"x":-3.5,"y":1.7},{"x":-3.4,"y":2.9},{"x":-3.3,"y":3.8},{"x":-3.2,"y":1.5},{"x":-3.1,"y":2.2},{"x":-3.0,"y":3.2},{"x":-2.9,"y":4.3},{"x":-2.8,"y":1.8},{"x":-2.7,"y":2.6},{"x":-2.6,"y":3.6},{"x":-2.5,"y":4.9},{"x":-2.4,"y":1.4},{"x":-2.3,"y":2.3},{"x":-2.2,"y":3.0},{"x":-2.1,"y":4.1},{"x":-2.0,"y":1.7},{"x":-1.9,"y":2.6},{"x":-1.8,"y":3.5},{"x":-1.7,"y":1.5},{"x":-1.6,"y":2.2},{"x":-1.5,"y":1.4},{"x":-1.3,"y":1.8},{"x":-1.1,"y":1.5},{"x":-0.9,"y":1.4},{"x":-6.3,"y":3.0},{"x":-5.7,"y":3.8},{"x":-4.9,"y":2.6},{"x":-4.4,"y":1.6},{"x":-3.9,"y":3.0},{"x":-3.4,"y":4.6},{"x":-3.0,"y":2.6},{"x":-2.6,"y":1.6},{"x":-2.2,"y":1.9},{"x":-1.9,"y":4.5},{"x":-5.1,"y":1.5},{"x":-4.1,"y":4.3},{"x":-3.3,"y":2.0},{"x":-2.8,"y":3.3},{"x":-3.7,"y":1.5},{"x":-2.5,"y":2.9},{"x":-4.6,"y":3.6},{"x":-3.6,"y":2.4},{"x":-6.9,"y":2.5},{"x":-8.3,"y":1.8},{"x":-5.5,"y":2.1}],
"p4u":[{"x":2.6,"y":29.7},{"x":7.2,"y":29.2},{"x":5.5,"y":27.9},{"x":1.4,"y":24.7},{"x":3.5,"y":23.0},{"x":9.1,"y":21.6},{"x":8.7,"y":20.2},{"x":2.4,"y":19.1},{"x":1.3,"y":18.9},{"x":1.5,"y":14.4},{"x":2.6,"y":14.6},{"x":7.1,"y":14.5},{"x":8.2,"y":14.5},{"x":2.4,"y":12.1},{"x":1.6,"y":12.8},{"x":2.1,"y":11.1},{"x":4.4,"y":10.0},{"x":6.4,"y":10.0},{"x":7.2,"y":9.7},{"x":7.7,"y":8.8},{"x":8.6,"y":8.6},{"x":8.9,"y":4.3},{"x":4.4,"y":8.1},{"x":5.7,"y":6.2},{"x":2.1,"y":9.0},{"x":3.2,"y":7.6},{"x":4.0,"y":6.9},{"x":4.9,"y":5.3},{"x":6.3,"y":5.7},{"x":8.0,"y":4.8},{"x":9.7,"y":3.4},
{"x":0.7,"y":5.6},{"x":1.0,"y":4.9},{"x":1.3,"y":5.8},{"x":1.6,"y":4.5},{"x":1.9,"y":5.3},{"x":2.2,"y":4.8},{"x":2.5,"y":5.9},{"x":2.8,"y":4.3},{"x":3.1,"y":5.1},{"x":3.4,"y":4.6},{"x":3.8,"y":5.6},{"x":4.2,"y":4.4},{"x":4.6,"y":5.0},
{"x":0.65,"y":3.9},{"x":0.9,"y":3.4},{"x":1.2,"y":4.1},{"x":1.5,"y":3.6},{"x":1.8,"y":3.1},{"x":2.1,"y":3.9},{"x":2.4,"y":3.3},{"x":2.7,"y":3.7},{"x":3.0,"y":3.0},{"x":3.3,"y":4.0},{"x":3.6,"y":3.4},{"x":3.9,"y":3.8},{"x":4.3,"y":3.2},{"x":4.8,"y":3.5},{"x":5.4,"y":3.9},{"x":6.0,"y":3.2},{"x":6.8,"y":3.7},
{"x":0.7,"y":2.7},{"x":1.0,"y":2.3},{"x":1.3,"y":2.8},{"x":1.6,"y":2.4},{"x":1.9,"y":2.0},{"x":2.2,"y":2.6},{"x":2.5,"y":2.2},{"x":2.8,"y":2.9},{"x":3.1,"y":2.4},{"x":3.4,"y":2.0},{"x":3.7,"y":2.7},{"x":4.0,"y":2.3},{"x":4.4,"y":2.8},{"x":4.9,"y":2.2},{"x":5.5,"y":2.5},{"x":6.3,"y":2.1},{"x":7.2,"y":2.4},
{"x":0.75,"y":1.6},{"x":1.05,"y":1.9},{"x":1.35,"y":1.45},{"x":1.65,"y":1.75},{"x":1.95,"y":1.4},{"x":2.25,"y":1.8},{"x":2.55,"y":1.5},{"x":2.85,"y":1.7},{"x":3.15,"y":1.4},{"x":3.45,"y":1.85},{"x":3.8,"y":1.5},{"x":4.2,"y":1.7},{"x":4.7,"y":1.4},{"x":5.3,"y":1.6},{"x":6.1,"y":1.5},{"x":7.0,"y":1.4},{"x":8.0,"y":1.6},{"x":0.9,"y":1.35},{"x":2.0,"y":1.35},{"x":3.0,"y":1.35}]
}
}
